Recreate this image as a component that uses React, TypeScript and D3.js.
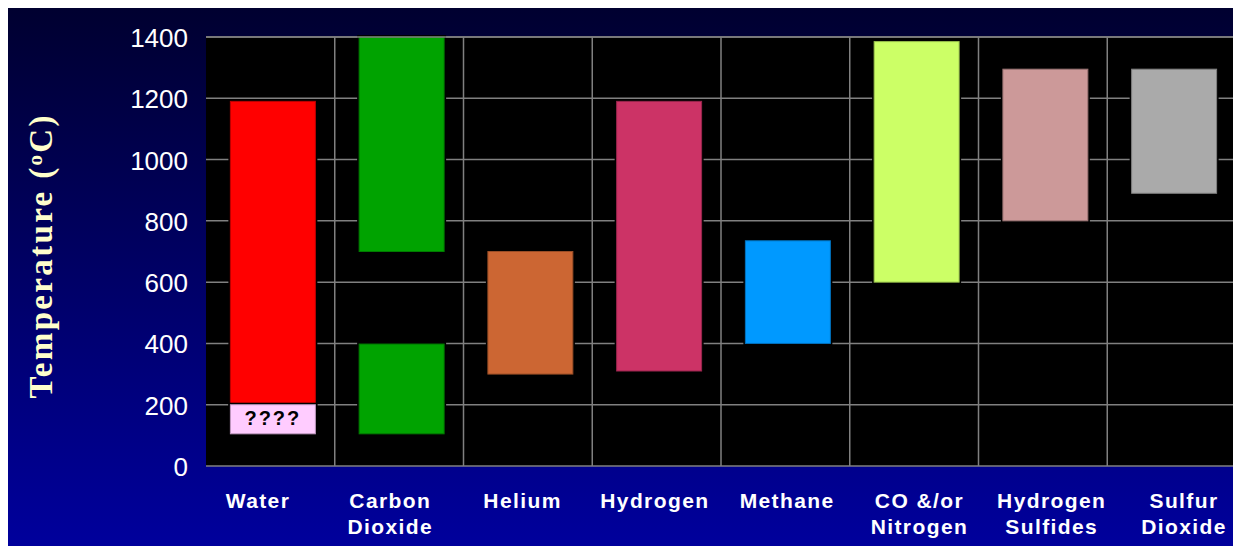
import * as d3 from "d3";

// chart data
const categories = ["Water", "Carbon Dioxide", "Helium", "Hydrogen", "Methane", "CO &/or Nitrogen", "Hydrogen Sulfides", "Sulfur Dioxide"];
const labelLines = [["Water"], ["Carbon", "Dioxide"], ["Helium"], ["Hydrogen"], ["Methane"], ["CO &/or", "Nitrogen"], ["Hydrogen", "Sulfides"], ["Sulfur", "Dioxide"]];
const rangeLow = [200, 700, 300, 310, 400, 600, 800, 890];
const rangeHigh = [1190, 1400, 700, 1190, 735, 1385, 1295, 1295];
const barColors = ["#FF0000", "#00A300", "#CC6633", "#CC3366", "#0099FF", "#CCFF66", "#CC9999", "#AAAAAA"];

// second segments (uncertain water range, low-temp CO2 range)
const extraCategory = ["Water", "Carbon Dioxide"];
const extraLow = [105, 105];
const extraHigh = [200, 398];
const extraColors = ["#FFCCFF", "#00A300"];
const extraText = ["????", ""];

const yTicks = [0, 200, 400, 600, 800, 1000, 1200, 1400];

const W = 1233;
const H = 546;
const margin = { top: 29, right: 5, bottom: 88, left: 198 };
const barShift = 2.5; // bars sit a touch right of band centres

export default function App() {
  const x = d3
    .scaleBand<string>()
    .domain(categories)
    .range([margin.left, W - margin.right])
    .paddingInner(0.34)
    .paddingOuter(0.17);
  // category labels sit on a slightly wider spread than the bands
  const xLabel = d3.scalePoint<string>().domain(categories).range([250, 1176]);
  const y = d3.scaleLinear().domain([0, 1400]).range([H - margin.bottom, margin.top]);

  const step = x.step();
  const left = margin.left;
  const right = W - margin.right;
  const bottom = H - margin.bottom;
  const bounds = categories.slice(1).map((c) => (x(c) ?? 0) - (step - x.bandwidth()) / 2);

  const rects = [
    ...categories.map((c, i) => ({ c, lo: rangeLow[i], hi: rangeHigh[i], color: barColors[i], text: "" })),
    ...extraCategory.map((c, i) => ({ c, lo: extraLow[i], hi: extraHigh[i], color: extraColors[i], text: extraText[i] })),
  ];

  return (
    <svg width={W} height={H} style={{ display: "block", marginBottom: -8 }}>
      <defs>
        <linearGradient id="bg" x1="0" y1="0" x2="0" y2="1">
          <stop offset="0%" stopColor="#000030" />
          <stop offset="100%" stopColor="#00009E" />
        </linearGradient>
      </defs>
      <rect width={W} height={H} fill="url(#bg)" />
      <rect x={left} y={margin.top} width={right - left} height={bottom - margin.top} fill="#000" />

      {/* grid */}
      {yTicks.map((t) => (
        <line key={"h" + t} x1={left} x2={right} y1={y(t)} y2={y(t)} stroke="#808080" strokeWidth={1.5} />
      ))}
      {bounds.map((b, i) => (
        <line key={"v" + i} x1={b} x2={b} y1={margin.top} y2={bottom} stroke="#808080" strokeWidth={1.5} />
      ))}

      {/* bars with a black halo so the grid stops short of them */}
      {rects.map((r, i) => {
        const bx = (x(r.c) ?? 0) + barShift;
        const by = y(r.hi);
        const bh = y(r.lo) - y(r.hi);
        return (
          <g key={"b" + i}>
            <rect x={bx - 2} y={by - 2} width={x.bandwidth() + 4} height={bh + 4} fill="#000" />
            <rect
              x={bx}
              y={by}
              width={x.bandwidth()}
              height={bh}
              fill={r.color}
              stroke={d3.color(r.color)?.darker(0.8).formatHex()}
              strokeWidth={1}
            />
            {r.text && (
              <text
                x={bx + x.bandwidth() / 2}
                y={by + bh / 2 - 1}
                textAnchor="middle"
                dominantBaseline="central"
                fontFamily="Liberation Sans, Arial, sans-serif"
                fontWeight="bold"
                fontSize={20}
                letterSpacing={2}
                fill="#000"
              >
                {r.text}
              </text>
            )}
          </g>
        );
      })}
      {/* redraw the top border over the top-reaching bar */}
      <line x1={left} x2={right} y1={y(1400)} y2={y(1400)} stroke="#808080" strokeWidth={1.5} />

      {/* y tick labels */}
      {yTicks.map((t) => (
        <text
          key={"t" + t}
          x={180}
          y={y(t) + 1}
          textAnchor="end"
          dominantBaseline="central"
          fontFamily="Liberation Sans, Arial, sans-serif"
          fontSize={26}
          fill="#fff"
        >
          {t}
        </text>
      ))}

      {/* category labels */}
      {categories.map((c, i) => (
        <text
          key={"c" + c}
          x={xLabel(c)}
          textAnchor="middle"
          fontFamily="Liberation Sans, Arial, sans-serif"
          fontWeight="bold"
          fontSize={21}
          letterSpacing={1.4}
          fill="#fff"
        >
          {labelLines[i].map((ln, j) => (
            <tspan key={j} x={xLabel(c)} y={500 + j * 26}>
              {ln}
            </tspan>
          ))}
        </text>
      ))}

      {/* y axis title */}
      <text
        transform={`translate(44,249) rotate(-90)`}
        textAnchor="middle"
        fontFamily="Liberation Serif, Times New Roman, serif"
        fontWeight="bold"
        fontSize={33}
        fill="#FFFFCC"
        textLength={283}
        lengthAdjust="spacing"
      >
        Temperature (<tspan fontSize={21} dy={-10}>o</tspan>
        <tspan dy={10}>C)</tspan>
      </text>
    </svg>
  );
}
